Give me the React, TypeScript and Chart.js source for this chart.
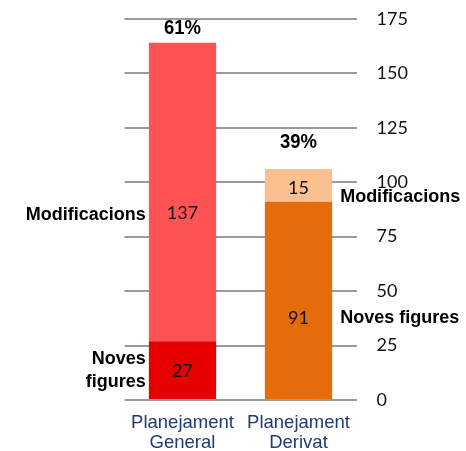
import React, { useEffect, useRef } from "react";
import { Chart, registerables } from "chart.js";

Chart.register(...registerables);

const categories: string[][] = [["Planejament", "General"], ["Planejament", "Derivat"]];
const novesFigures: number[] = [27, 91];
const modificacions: number[] = [137, 15];
const percentLabels: string[] = ["61%", "39%"];
const yTicks = { min: 0, max: 175, step: 25 };

const annotatePlugin = {
  id: "annotate",
  afterDatasetsDraw(chart: any) {
    const ctx = chart.ctx;
    const meta0 = chart.getDatasetMeta(0);
    const meta1 = chart.getDatasetMeta(1);
    ctx.save();
    // segment values
    const segOffsets = [[1, 18], [21, 3]];
    [meta0, meta1].forEach((meta: any, di: number) => {
      meta.data.forEach((bar: any, i: number) => {
        const cy = (bar.y + bar.base) / 2 + segOffsets[di][i];
        ctx.font = "18px Lato, 'Open Sans', sans-serif";
        ctx.fillStyle = "#111";
        ctx.textAlign = "center";
        ctx.textBaseline = "middle";
        ctx.fillText(String(chart.data.datasets[di].data[i]), bar.x, cy);
      });
    });
    // percent labels above bars (condensed bold)
    const pctOffsets = [15, 27];
    meta1.data.forEach((bar: any, i: number) => {
      ctx.save();
      ctx.translate(bar.x, bar.y - pctOffsets[i]);
      ctx.scale(0.88, 1);
      ctx.font = "bold 21px 'Liberation Sans', Arial, sans-serif";
      ctx.fillStyle = "#000";
      ctx.textAlign = "center";
      ctx.textBaseline = "middle";
      ctx.fillText(percentLabels[i], 0, 0);
      ctx.restore();
    });
    // side labels
    const side = [
      { ds: 1, i: 0, left: true, lines: ["Modificacions"], dy: 23 },
      { ds: 0, i: 0, left: true, lines: ["Noves", "figures"], dy: 0 },
      { ds: 1, i: 1, left: false, lines: ["Modificacions"], dy: 12 },
      { ds: 0, i: 1, left: false, lines: ["Noves figures"], dy: 18 },
    ];
    ctx.font = "bold 18px 'Liberation Sans', Arial, sans-serif";
    ctx.fillStyle = "#000";
    ctx.textBaseline = "middle";
    side.forEach((s) => {
      const bar = chart.getDatasetMeta(s.ds).data[s.i];
      const cy = (bar.y + bar.base) / 2 + s.dy;
      const lh = 23;
      const start = cy - ((s.lines.length - 1) * lh) / 2;
      const halfW = bar.width / 2;
      s.lines.forEach((line, k) => {
        if (s.left) {
          ctx.textAlign = "right";
          ctx.fillText(line, bar.x - halfW - 3, start + k * lh);
        } else {
          ctx.textAlign = "left";
          ctx.fillText(line, bar.x + halfW + 8, start + k * lh);
        }
      });
    });
    ctx.restore();
  },
};

export default function App() {
  const ref = useRef<HTMLCanvasElement | null>(null);
  useEffect(() => {
    if (!ref.current) return;
    const chart = new Chart(ref.current, {
      type: "bar",
      data: {
        labels: categories,
        datasets: [
          {
            label: "Noves figures",
            data: novesFigures,
            backgroundColor: ["#E60000", "#E46C0A"],
            barPercentage: 1,
            categoryPercentage: 0.58,
          },
          {
            label: "Modificacions",
            data: modificacions,
            backgroundColor: ["#FF5353", "#FAC090"],
            barPercentage: 1,
            categoryPercentage: 0.58,
          },
        ],
      },
      options: {
        animation: false,
        responsive: true,
        maintainAspectRatio: false,
        layout: { padding: { left: 124.5, top: 7, right: 0, bottom: 0 } },
        plugins: { legend: { display: false }, tooltip: { enabled: false } },
        scales: {
          x: {
            stacked: true,
            grid: { display: false, drawTicks: false },
            border: { display: false },
            ticks: {
              color: "#1F3A78",
              font: { family: "'Liberation Sans', Arial, sans-serif", size: 18.5, lineHeight: 1.08 },
              padding: 13,
              maxRotation: 0,
            },
            afterFit: (s: any) => {
              s.height = 51;
            },
          },
          y: {
            stacked: true,
            position: "right",
            min: yTicks.min,
            max: yTicks.max,
            grid: { color: "#9a9a9a", lineWidth: 2, drawTicks: false },
            border: { display: false },
            ticks: {
              stepSize: yTicks.step,
              color: "#111",
              font: { family: "Lato, 'Open Sans', sans-serif", size: 18 },
              padding: 20,
            },
            afterFit: (s: any) => {
              s.width = 109.5;
            },
          },
        },
      },
      plugins: [annotatePlugin],
    });
    return () => chart.destroy();
  }, []);
  return (
    <div style={{ position: "fixed", left: 0, top: -12, width: 466, height: 463 }}>
      <canvas ref={ref} />
    </div>
  );
}
